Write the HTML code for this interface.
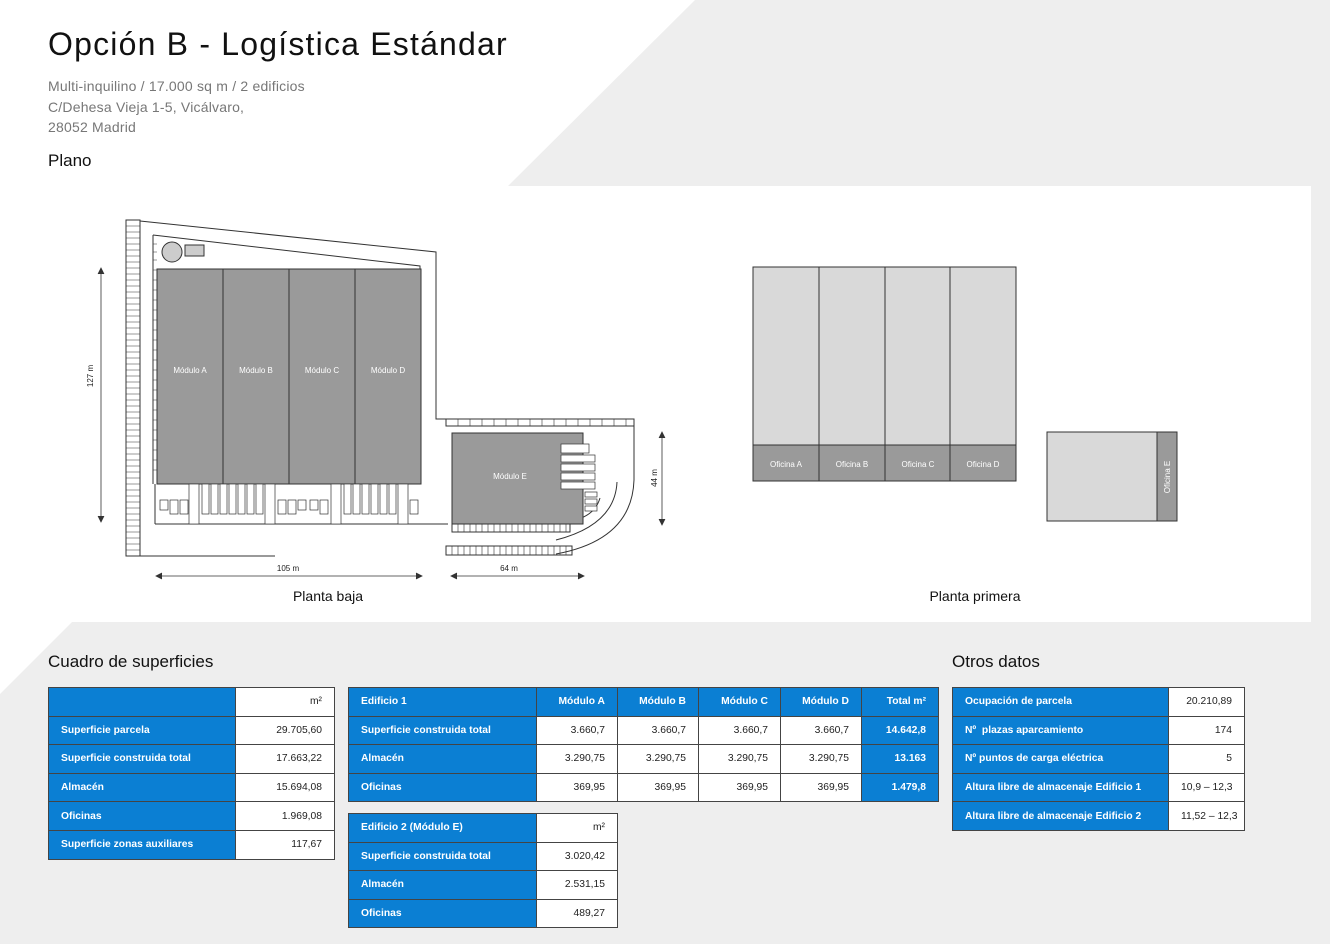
<!DOCTYPE html>
<html><head><meta charset="utf-8">
<style>
*{margin:0;padding:0;box-sizing:border-box}
body{width:1330px;height:944px;position:relative;overflow:hidden;background:#eeeeee;font-family:"Liberation Sans",sans-serif}
#bg{position:absolute;left:0;top:0}
.t{position:absolute;color:#111}
table{position:absolute;border-collapse:collapse;font-size:10.3px;table-layout:fixed}
td{border:1px solid #444;height:28.6px;padding:0 12px;white-space:nowrap;overflow:hidden}
td.b{background:#0b7fd3;color:#fff;font-weight:bold;text-align:left}
td.h{background:#0b7fd3;color:#fff;font-weight:bold;text-align:right}
td.v{background:#fff;color:#222;text-align:right}
</style></head><body>
<svg id="bg" width="1330" height="944" viewBox="0 0 1330 944">
<polygon points="0,0 695,0 508,186 1311,186 1311,622 72,622 0,694" fill="#fff"/>
<g stroke="#333" stroke-width="1" fill="none">
<rect x="126" y="220" width="14" height="336"/>
<path d="M126,556 L275,556"/>
<path d="M140,221 L436,252 L436,419 L446,419"/>
<path d="M153,235 L420,266 L420,269"/>
<path d="M153,235 L153,484"/>
<rect x="446" y="419" width="188" height="7"/>
<path d="M634,426 L634,480 Q632,540 556,554"/>
<path d="M617,482 Q615,525 556,540"/>
<path d="M600,498 Q595,515 575,520"/>
<rect x="446" y="546" width="126" height="9"/>
<rect x="452" y="524" width="118" height="8"/>
<path d="M155,524 L448,524"/>
<path d="M155,484 L155,524"/>
</g>
<g stroke="#333" stroke-width="0.6">
<path d="M126,226H140M126,232H140M126,238H140M126,244H140M126,250H140M126,256H140M126,262H140M126,268H140M126,274H140M126,280H140M126,286H140M126,292H140M126,298H140M126,304H140M126,310H140M126,316H140M126,322H140M126,328H140M126,334H140M126,340H140M126,346H140M126,352H140M126,358H140M126,364H140M126,370H140M126,376H140M126,382H140M126,388H140M126,394H140M126,400H140M126,406H140M126,412H140M126,418H140M126,424H140M126,430H140M126,436H140M126,442H140M126,448H140M126,454H140M126,460H140M126,466H140M126,472H140M126,478H140M126,484H140M126,490H140M126,496H140M126,502H140M126,508H140M126,514H140M126,520H140M126,526H140M126,532H140M126,538H140M126,544H140M126,550H140"/>
<path d="M153,244H157M153,252H157M153,260H157M153,270H157M153,280H157M153,290H157M153,300H157M153,310H157M153,320H157M153,330H157M153,340H157M153,350H157M153,360H157M153,370H157M153,380H157M153,390H157M153,400H157M153,410H157M153,420H157M153,430H157M153,440H157M153,450H157M153,460H157M153,470H157"/>
<path d="M458,419V426M470,419V426M482,419V426M494,419V426M506,419V426M518,419V426M530,419V426M542,419V426M554,419V426M566,419V426M578,419V426M590,419V426M602,419V426M614,419V426M626,419V426"/>
<path d="M452,546V555M458,546V555M464,546V555M470,546V555M476,546V555M482,546V555M488,546V555M494,546V555M500,546V555M506,546V555M512,546V555M518,546V555M524,546V555M530,546V555M536,546V555M542,546V555M548,546V555M554,546V555M560,546V555M566,546V555"/>
<path d="M458,524V532M464,524V532M470,524V532M476,524V532M482,524V532M488,524V532M494,524V532M500,524V532M506,524V532M512,524V532M518,524V532M524,524V532M530,524V532M536,524V532M542,524V532M548,524V532M554,524V532M560,524V532M566,524V532"/>
</g>
<circle cx="172" cy="252" r="10" fill="#ccc" stroke="#333"/>
<rect x="185" y="245" width="19" height="11" fill="#ccc" stroke="#333"/>
<rect x="157" y="269" width="264" height="215" fill="#9a9a9a" stroke="#333"/>
<path d="M223,269V484M289,269V484M355,269V484" stroke="#333"/>
<g fill="#fff" stroke="#333" stroke-width="0.7">
<rect x="160" y="500" width="8" height="10"/><rect x="170" y="500" width="8" height="14"/><rect x="180" y="500" width="8" height="14"/>
<rect x="189" y="484" width="10" height="40"/><rect x="202" y="484" width="7" height="30"/><rect x="211" y="484" width="7" height="30"/><rect x="220" y="484" width="7" height="30"/><rect x="229" y="484" width="7" height="30"/><rect x="238" y="484" width="7" height="30"/><rect x="247" y="484" width="7" height="30"/><rect x="256" y="484" width="7" height="30"/>
<rect x="265" y="484" width="10" height="40"/><rect x="278" y="500" width="8" height="14"/><rect x="288" y="500" width="8" height="14"/><rect x="298" y="500" width="8" height="10"/>
<rect x="310" y="500" width="8" height="10"/><rect x="320" y="500" width="8" height="14"/>
<rect x="331" y="484" width="10" height="40"/><rect x="344" y="484" width="7" height="30"/><rect x="353" y="484" width="7" height="30"/><rect x="362" y="484" width="7" height="30"/><rect x="371" y="484" width="7" height="30"/><rect x="380" y="484" width="7" height="30"/><rect x="389" y="484" width="7" height="30"/>
<rect x="398" y="484" width="10" height="40"/><rect x="410" y="500" width="8" height="14"/>
</g>
<rect x="452" y="433" width="131" height="91" fill="#9a9a9a" stroke="#333"/>
<g fill="#fff" stroke="#333" stroke-width="0.7">
<rect x="561" y="444" width="28" height="9"/><rect x="561" y="455" width="34" height="7"/><rect x="561" y="464" width="34" height="7"/><rect x="561" y="473" width="34" height="7"/><rect x="561" y="482" width="34" height="7"/>
<rect x="585" y="492" width="12" height="5"/><rect x="585" y="499" width="12" height="5"/><rect x="585" y="506" width="12" height="5"/>
</g>
<g stroke="#333" stroke-width="0.8" fill="#333">
<path d="M101,270V520"/><path d="M98,274L101,268L104,274M98,516L101,522L104,516"/>
<path d="M157,576H421"/><path d="M162,573L156,576L162,579M416,573L422,576L416,579"/>
<path d="M452,576H583"/><path d="M457,573L451,576L457,579M578,573L584,576L578,579"/>
<path d="M662,433V524"/><path d="M659,438L662,432L665,438M659,519L662,525L665,519"/>
</g>
<g font-family="Liberation Sans" font-size="8" fill="#fff" text-anchor="middle">
<text x="190" y="373">Módulo A</text><text x="256" y="373">Módulo B</text><text x="322" y="373">Módulo C</text><text x="388" y="373">Módulo D</text>
<text x="510" y="479">Módulo E</text>
</g>
<g font-family="Liberation Sans" font-size="8" fill="#222" text-anchor="middle">
<text x="288" y="571">105 m</text><text x="509" y="571">64 m</text>
<text transform="translate(93,376) rotate(-90)">127 m</text>
<text transform="translate(657,478) rotate(-90)">44 m</text>
</g>
<g stroke="#333" stroke-width="1">
<rect x="753" y="267" width="263" height="178" fill="#d9d9d9"/>
<rect x="753" y="445" width="263" height="36" fill="#9a9a9a"/>
<path d="M819,267V481M885,267V481M950,267V481"/>
<rect x="1047" y="432" width="110" height="89" fill="#d9d9d9"/>
<rect x="1157" y="432" width="20" height="89" fill="#9a9a9a"/>
</g>
<g font-family="Liberation Sans" font-size="8" fill="#fff" text-anchor="middle">
<text x="786" y="467">Oficina A</text><text x="852" y="467">Oficina B</text><text x="918" y="467">Oficina C</text><text x="983" y="467">Oficina D</text>
<text transform="translate(1170,477) rotate(-90)">Oficina E</text>
</g>
<g font-family="Liberation Sans" font-size="14" fill="#111" text-anchor="middle">
<text x="328" y="601">Planta baja</text><text x="975" y="601">Planta primera</text>
</g>
</svg>
<div class="t" style="left:48px;top:26px;font-size:32px;letter-spacing:1.2px">Opción B - Logística Estándar</div>
<div class="t" style="left:48px;top:76px;font-size:14px;line-height:20.5px;color:#777;letter-spacing:0.2px">Multi-inquilino / 17.000 sq m / 2 edificios<br>C/Dehesa Vieja 1-5, Vicálvaro,<br>28052 Madrid</div>
<div class="t" style="left:48px;top:151px;font-size:17px">Plano</div>
<div class="t" style="left:48px;top:652px;font-size:17px">Cuadro de superficies</div>
<div class="t" style="left:952px;top:652px;font-size:17px">Otros datos</div>

<table style="left:48px;top:687px;width:286px">
<colgroup><col style="width:187px"><col style="width:99px"></colgroup>
<tr><td class="b"></td><td class="v">m²</td></tr>
<tr><td class="b">Superficie parcela</td><td class="v">29.705,60</td></tr>
<tr><td class="b">Superficie construida total</td><td class="v">17.663,22</td></tr>
<tr><td class="b">Almacén</td><td class="v">15.694,08</td></tr>
<tr><td class="b">Oficinas</td><td class="v">1.969,08</td></tr>
<tr><td class="b">Superficie zonas auxiliares</td><td class="v">117,67</td></tr>
</table>

<table style="left:348px;top:687px;width:590px">
<colgroup><col style="width:188px"><col style="width:81px"><col style="width:81px"><col style="width:82px"><col style="width:81px"><col style="width:77px"></colgroup>
<tr><td class="b">Edificio 1</td><td class="h">Módulo A</td><td class="h">Módulo B</td><td class="h">Módulo C</td><td class="h">Módulo D</td><td class="h">Total m²</td></tr>
<tr><td class="b">Superficie construida total</td><td class="v">3.660,7</td><td class="v">3.660,7</td><td class="v">3.660,7</td><td class="v">3.660,7</td><td class="h">14.642,8</td></tr>
<tr><td class="b">Almacén</td><td class="v">3.290,75</td><td class="v">3.290,75</td><td class="v">3.290,75</td><td class="v">3.290,75</td><td class="h">13.163</td></tr>
<tr><td class="b">Oficinas</td><td class="v">369,95</td><td class="v">369,95</td><td class="v">369,95</td><td class="v">369,95</td><td class="h">1.479,8</td></tr>
</table>

<table style="left:348px;top:813px;width:269px">
<colgroup><col style="width:188px"><col style="width:81px"></colgroup>
<tr><td class="b">Edificio 2 (Módulo E)</td><td class="v">m²</td></tr>
<tr><td class="b">Superficie construida total</td><td class="v">3.020,42</td></tr>
<tr><td class="b">Almacén</td><td class="v">2.531,15</td></tr>
<tr><td class="b">Oficinas</td><td class="v">489,27</td></tr>
</table>

<table style="left:952px;top:687px;width:292px">
<colgroup><col style="width:216px"><col style="width:76px"></colgroup>
<tr><td class="b">Ocupación de parcela</td><td class="v">20.210,89</td></tr>
<tr><td class="b">Nº&nbsp; plazas aparcamiento</td><td class="v">174</td></tr>
<tr><td class="b">Nº puntos de carga eléctrica</td><td class="v">5</td></tr>
<tr><td class="b">Altura libre de almacenaje Edificio 1</td><td class="v">10,9 – 12,3</td></tr>
<tr><td class="b">Altura libre de almacenaje Edificio 2</td><td class="v">11,52 – 12,3</td></tr>
</table>
</body></html>
